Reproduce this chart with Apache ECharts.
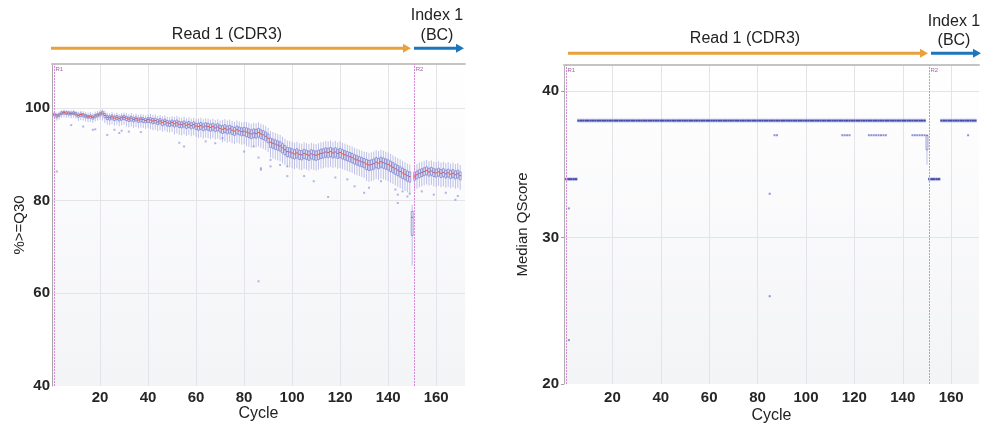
<!DOCTYPE html>
<html><head><meta charset="utf-8">
<script src="https://cdn.jsdelivr.net/npm/echarts@6/dist/echarts.min.js"></script>
<style>html,body{margin:0;padding:0;background:#fff}#c{width:982px;height:425px}</style>
</head><body><div id="c"></div>
<script>
// ---------- data ----------
const cycleCount = 170;
const cycles = Array.from({length: cycleCount}, (_, i) => i + 1);
const xTickLabels = [20, 40, 60, 80, 100, 120, 140, 160];
const leftYTicks = [40, 60, 80, 100];
const rightYTicks = [20, 30, 40];
const markerCycles = [1, 151];
const markerNames = ['R1', 'R2'];

// Left panel: %>=Q30 box plots per cycle
const leftMedian = [
 98.6,98.3,98.5,98.9,99.0,98.9,98.9,98.8,98.9,98.7,
 98.4,98.6,98.5,98.3,98.1,98.2,98.0,98.3,98.5,98.7,
 98.9,98.4,98.0,97.9,98.1,97.8,98.0,97.7,97.9,98.0,
 97.8,97.6,97.8,97.5,97.7,97.4,97.6,97.5,97.3,97.5,
 97.4,97.2,97.3,97.0,97.2,96.9,97.1,96.8,96.7,96.9,
 96.6,96.8,96.5,96.4,96.6,96.3,96.5,96.2,96.4,96.1,
 96.0,96.2,95.9,96.1,96.0,95.8,96.0,95.7,95.9,95.6,
 95.4,95.6,95.3,95.5,95.2,95.0,95.3,95.1,94.9,95.0,
 94.8,94.6,94.4,94.6,94.5,94.7,94.4,94.2,93.9,93.5,
 92.6,92.4,92.2,92.0,91.8,91.4,91.0,90.6,90.5,90.3,
 90.1,90.3,90.0,89.9,90.2,90.0,89.8,90.1,89.9,89.8,
 90.0,90.2,90.3,90.5,90.4,90.6,90.3,90.5,90.2,90.4,
 90.1,89.9,89.7,89.5,89.3,89.0,88.8,88.6,88.4,88.2,
 87.9,87.7,87.8,88.0,88.3,88.1,88.4,88.2,88.0,87.8,
 87.5,87.2,86.9,86.6,86.3,86.0,85.7,85.4,85.2,76.4,
 85.3,85.6,85.9,86.1,86.3,86.5,86.2,86.4,86.1,86.0,
 86.2,85.9,86.1,85.8,86.0,85.7,85.9,85.6,85.8,85.4];
const leftQ1 = [
 98.3,97.9,98.2,98.6,98.7,98.6,98.5,98.5,98.6,98.3,
 98.0,98.2,98.1,97.9,97.8,97.8,97.6,97.9,98.1,98.3,
 98.5,97.9,97.5,97.4,97.6,97.3,97.5,97.2,97.4,97.5,
 97.3,97.1,97.2,97.0,97.2,96.9,97.0,96.9,96.8,96.9,
 96.8,96.6,96.7,96.4,96.6,96.2,96.4,96.1,96.0,96.2,
 95.9,96.1,95.8,95.7,95.9,95.6,95.8,95.5,95.7,95.4,
 95.2,95.4,95.1,95.3,95.2,95.0,95.2,94.9,95.1,94.8,
 94.5,94.7,94.4,94.6,94.3,94.1,94.4,94.2,94.0,94.1,
 93.8,93.6,93.4,93.6,93.5,93.7,93.4,93.2,92.9,92.5,
 91.5,91.3,91.1,90.9,90.7,90.3,89.9,89.5,89.4,89.2,
 89.0,89.2,88.9,88.8,89.1,88.9,88.7,89.0,88.8,88.7,
 88.9,89.1,89.2,89.4,89.3,89.5,89.2,89.4,89.1,89.3,
 89.0,88.8,88.6,88.4,88.2,87.9,87.7,87.5,87.3,87.1,
 86.7,86.5,86.6,86.8,87.1,86.9,87.2,87.0,86.8,86.6,
 86.3,86.0,85.7,85.4,85.1,84.8,84.5,84.2,84.0,72.5,
 84.4,84.7,85.0,85.2,85.4,85.6,85.3,85.5,85.2,85.1,
 85.3,85.0,85.2,84.9,85.1,84.8,85.0,84.7,84.9,84.5];
const leftQ3 = [
 98.9,98.6,98.8,99.2,99.3,99.2,99.2,99.1,99.2,99.0,
 98.7,98.9,98.8,98.6,98.4,98.5,98.3,98.6,98.8,99.0,
 99.3,98.8,98.4,98.3,98.5,98.2,98.4,98.1,98.3,98.4,
 98.2,98.0,98.2,97.9,98.1,97.8,98.0,97.9,97.7,97.9,
 97.9,97.7,97.8,97.5,97.7,97.4,97.6,97.3,97.2,97.4,
 97.2,97.4,97.1,97.0,97.2,96.9,97.1,96.8,97.0,96.7,
 96.7,96.9,96.6,96.8,96.7,96.5,96.7,96.4,96.6,96.3,
 96.2,96.4,96.1,96.3,96.0,95.8,96.1,95.9,95.7,95.8,
 95.7,95.5,95.3,95.5,95.4,95.6,95.3,95.1,94.8,94.4,
 93.5,93.3,93.1,92.9,92.7,92.3,91.9,91.5,91.4,91.2,
 91.0,91.2,90.9,90.8,91.1,90.9,90.7,91.0,90.8,90.7,
 90.9,91.1,91.2,91.4,91.3,91.5,91.2,91.4,91.1,91.3,
 91.0,90.8,90.6,90.4,90.2,89.9,89.7,89.5,89.3,89.1,
 88.9,88.7,88.8,89.0,89.3,89.1,89.4,89.2,89.0,88.8,
 88.5,88.2,87.9,87.6,87.3,87.0,86.7,86.4,86.2,77.7,
 86.1,86.4,86.7,86.9,87.1,87.3,87.0,87.2,86.9,86.8,
 87.0,86.7,86.9,86.6,86.8,86.5,86.7,86.4,86.6,86.2];
const leftLow = [
 97.6,97.3,97.5,97.9,98.0,97.9,97.9,97.8,97.9,97.7,
 97.2,97.4,97.3,97.1,96.9,97.0,96.8,97.1,97.3,97.5,
 97.3,96.8,96.4,96.3,96.5,96.2,96.4,96.1,96.3,96.4,
 96.0,95.8,96.0,95.7,95.9,95.6,95.8,95.7,95.5,95.7,
 95.4,95.2,95.3,95.0,95.2,94.9,95.1,94.8,94.7,94.9,
 94.3,94.5,94.2,94.1,94.3,94.0,94.2,93.9,94.1,93.8,
 93.5,93.7,93.4,93.6,93.5,93.3,93.5,93.2,93.4,93.1,
 92.6,92.8,92.5,92.7,92.4,92.2,92.5,92.3,92.1,92.2,
 91.8,91.6,91.4,91.6,91.5,91.7,91.4,91.2,90.9,90.5,
 89.3,89.1,88.9,88.7,88.5,88.1,87.7,87.3,87.2,87.0,
 86.8,87.0,86.7,86.6,86.9,86.7,86.5,86.8,86.6,86.5,
 86.7,86.9,87.0,87.2,87.1,87.3,87.0,87.2,86.9,87.1,
 86.8,86.6,86.4,86.2,86.0,85.7,85.5,85.3,85.1,84.9,
 84.3,84.1,84.2,84.4,84.7,84.5,84.8,84.6,84.4,84.2,
 83.9,83.6,83.3,83.0,82.7,82.4,82.1,81.8,81.6,66.0,
 82.3,82.6,82.9,83.1,83.3,83.5,83.2,83.4,83.1,83.0,
 83.2,82.9,83.1,82.8,83.0,82.7,82.9,82.6,82.8,82.4];
const leftHigh = [
 99.3,99.0,99.2,99.5,99.6,99.6,99.5,99.5,99.6,99.4,
 99.2,99.4,99.3,99.1,99.0,99.1,98.9,99.2,99.4,99.5,
 99.7,99.4,99.0,98.9,99.1,98.8,99.0,98.7,98.9,99.0,
 98.9,98.7,98.9,98.6,98.8,98.5,98.7,98.6,98.4,98.6,
 98.7,98.5,98.6,98.3,98.5,98.2,98.4,98.1,98.0,98.2,
 98.1,98.3,98.0,97.9,98.1,97.8,98.0,97.7,97.9,97.6,
 97.7,97.9,97.6,97.8,97.7,97.5,97.7,97.4,97.6,97.3,
 97.4,97.6,97.3,97.5,97.2,97.0,97.3,97.1,96.9,97.0,
 97.0,96.8,96.6,96.8,96.7,96.9,96.6,96.4,96.1,95.7,
 95.0,94.8,94.6,94.4,94.2,93.8,93.4,93.0,92.9,92.7,
 92.5,92.7,92.4,92.3,92.6,92.4,92.2,92.5,92.3,92.2,
 92.4,92.6,92.7,92.9,92.8,93.0,92.7,92.9,92.6,92.8,
 92.5,92.3,92.1,91.9,91.7,91.4,91.2,91.0,90.8,90.6,
 90.5,90.3,90.4,90.6,90.9,90.7,91.0,90.8,90.6,90.4,
 90.1,89.8,89.5,89.2,88.9,88.6,88.3,88.0,87.8,79.1,
 87.6,87.9,88.2,88.4,88.6,88.8,88.5,88.7,88.4,88.3,
 88.5,88.2,88.4,88.1,88.3,88.0,88.2,87.9,88.1,87.7];
const leftOutliers = [[2,86.3],[8,96.3],[13,96.0],[17,95.3],[18,95.4],[23,94.2],[26,95.3],[28,94.6],[29,95.1],[32,94.9],[37,94.8],
 [53,92.5],[55,91.7],[64,92.8],[68,92.4],[71,93.5],[80,90.6],[82,94.0],[84,91.7],[86,89.3],[86,62.6],[87,87.0],[87,86.7],
 [91,88.8],[91,87.4],[95,87.7],[98,85.3],[98,87.4],[105,85.3],[109,84.2],[115,80.8],[118,85.0],[123,84.6],[126,83.1],
 [130,81.7],[132,82.8],[137,84.2],[143,82.4],[144,81.3],[144,79.5],[146,82.0],[148,80.9],[149,81.5],[154,82.0],
 [159,81.3],[164,81.7],[168,80.2],[169,81.0]];

// Right panel: Median QScore per cycle
const rightMedian = [
 34,34,34,34,34,38,38,38,38,38,
 38,38,38,38,38,38,38,38,38,38,
 38,38,38,38,38,38,38,38,38,38,
 38,38,38,38,38,38,38,38,38,38,
 38,38,38,38,38,38,38,38,38,38,
 38,38,38,38,38,38,38,38,38,38,
 38,38,38,38,38,38,38,38,38,38,
 38,38,38,38,38,38,38,38,38,38,
 38,38,38,38,38,38,38,38,38,38,
 38,38,38,38,38,38,38,38,38,38,
 38,38,38,38,38,38,38,38,38,38,
 38,38,38,38,38,38,38,38,38,38,
 38,38,38,38,38,38,38,38,38,38,
 38,38,38,38,38,38,38,38,38,38,
 38,38,38,38,38,38,38,38,38,37,
 34,34,34,34,34,38,38,38,38,38,
 38,38,38,38,38,38,38,38,38,38];
// [cycle, low, q1, median, q3, high] for the one non-flat box
const rightBoxCycle150 = [150, 35, 36, 37, 37, 37];
const rightOutliers = [[2,32],[2,23],[85,33],[85,26],[87,37],[88,37],[115,37],[116,37],[117,37],[118,37],
 [126,37],[127,37],[128,37],[129,37],[130,37],[131,37],[132,37],[133,37],
 [144,37],[145,37],[146,37],[147,37],[148,37],[149,37],[167,37]];

// ---------- chart ----------
const FONT = "'Liberation Sans', Arial, sans-serif";
const leftRows = cycles.map((c, i) => [c, leftLow[i], leftQ1[i], leftMedian[i], leftQ3[i], leftHigh[i]]);
const rightRows = cycles.map((c, i) => c === rightBoxCycle150[0] ? rightBoxCycle150.slice()
  : [c, rightMedian[i], rightMedian[i], rightMedian[i], rightMedian[i], rightMedian[i]]);

function makeRender(widthFrac) {
  return function (params, api) {
    const x = api.value(0);
    const pLo = api.coord([x, api.value(1)]);
    const pQ1 = api.coord([x, api.value(2)]);
    const pMed = api.coord([x, api.value(3)]);
    const pQ3 = api.coord([x, api.value(4)]);
    const pHi = api.coord([x, api.value(5)]);
    const full = api.size([1, 0])[0];
    const w = full * widthFrac;
    const children = [];
    const flat = Math.abs(pQ1[1] - pQ3[1]) < 0.5 && Math.abs(pLo[1] - pHi[1]) < 0.5;
    if (flat) {
      children.push({type: 'rect', shape: {x: pMed[0] - full / 2, y: pMed[1] - 2, width: full, height: 4},
        style: {fill: 'rgba(170,174,230,0.55)'}});
      children.push({type: 'rect', shape: {x: pMed[0] - full / 2, y: pMed[1] - 1, width: full, height: 2},
        style: {fill: '#4349ad'}});
      return {type: 'group', children};
    }
    children.push({type: 'line', shape: {x1: pLo[0], y1: pLo[1], x2: pHi[0], y2: pHi[1]},
      style: {stroke: 'rgba(140,144,215,0.55)', lineWidth: 1}});
    children.push({type: 'rect', shape: {x: pQ3[0] - w / 2, y: pQ3[1], width: w, height: Math.max(pQ1[1] - pQ3[1], 1)},
      style: {fill: 'rgba(240,241,252,0.85)', stroke: 'rgba(85,90,190,0.75)', lineWidth: 0.7}});
    children.push({type: 'line', shape: {x1: pMed[0] - w / 2, y1: pMed[1], x2: pMed[0] + w / 2, y2: pMed[1]},
      style: {stroke: '#e4514c', lineWidth: 1}});
    return {type: 'group', children};
  };
}

const bg = {type: 'linear', x: 0, y: 0, x2: 0, y2: 1, colorStops: [
  {offset: 0, color: '#ffffff'}, {offset: 0.18, color: '#fdfdfe'}, {offset: 1, color: '#f3f4f6'}]};

const splitStyle = {color: '#e4e4e8', width: 1};
function xAxisBottom(gridIndex, max, margin, nameGap) {
  return {
    gridIndex, type: 'value', min: 0, max, interval: 20,
    axisLine: {show: false}, axisTick: {show: false},
    axisLabel: {showMinLabel: false, showMaxLabel: false, fontWeight: 'bold', fontSize: 15, color: '#262626',
      margin, fontFamily: FONT,
      formatter: v => xTickLabels.indexOf(v) >= 0 ? String(v) : ''},
    splitLine: {show: true, showMinLine: false, showMaxLine: false, lineStyle: splitStyle},
    name: 'Cycle', nameLocation: 'middle', nameGap, nameMoveOverlap: false,
    nameTextStyle: {fontSize: 16, color: '#222', fontFamily: FONT}
  };
}
function xAxisTop(gridIndex, max) {
  return {gridIndex, type: 'value', position: 'top', min: 0, max,
    axisLine: {show: true, lineStyle: {color: '#c4c4c4', width: 2}},
    axisTick: {show: false}, axisLabel: {show: false}, splitLine: {show: false}};
}

function markers(ymax) {
  return {
    markLine: {symbol: 'none', silent: true, animation: false,
      lineStyle: {color: '#d88ad8', type: [2, 1], width: 1},
      label: {show: false},
      data: markerCycles.map(c => ({xAxis: c}))},
    markPoint: {silent: true, animation: false, symbol: 'rect', symbolSize: 0.1,
      itemStyle: {color: 'rgba(0,0,0,0)'},
      label: {show: true, position: 'right', distance: 1, offset: [0, 5], fontSize: 6, color: '#a565ae', fontFamily: FONT,
        formatter: p => p.name},
      data: markerCycles.map((c, i) => ({name: markerNames[i], coord: [c, ymax]}))}
  };
}

const option = {
  animation: false,
  grid: [
    {left: 52, top: 64, width: 413, height: 322, show: true, backgroundColor: bg, borderWidth: 0,
      containLabel: false, outerBoundsMode: 'none'},
    {left: 564, top: 65, width: 415, height: 319, show: true, backgroundColor: bg, borderWidth: 0,
      containLabel: false, outerBoundsMode: 'none'}
  ],
  xAxis: [xAxisBottom(0, 172, 4, 20), xAxisBottom(1, 171.5, 6, 24), xAxisTop(0, 172), xAxisTop(1, 171.5)],
  yAxis: [
    {gridIndex: 0, type: 'value', min: 40, max: 109.5, interval: 20,
      axisLine: {show: true, lineStyle: {color: '#a6a6a6'}}, axisTick: {show: false},
      axisLabel: {showMaxLabel: false, fontWeight: 'bold', fontSize: 15, color: '#262626', margin: 2, fontFamily: FONT,
        formatter: v => leftYTicks.indexOf(v) >= 0 ? String(v) : ''},
      splitLine: {show: true, showMinLine: false, showMaxLine: false, lineStyle: splitStyle},
      name: '%>=Q30', nameLocation: 'middle', nameGap: 25, nameMoveOverlap: false,
      nameTextStyle: {fontSize: 15, color: '#222', fontFamily: FONT}},
    {gridIndex: 1, type: 'value', min: 20, max: 41.8, interval: 10,
      axisLine: {show: true, lineStyle: {color: '#b0b0b0'}},
      axisTick: {show: true, length: 3, lineStyle: {color: '#a0a0a0'}},
      axisLabel: {showMaxLabel: false, fontWeight: 'bold', fontSize: 15, color: '#262626', margin: 5, fontFamily: FONT,
        formatter: v => rightYTicks.indexOf(v) >= 0 ? String(v) : ''},
      splitLine: {show: true, showMinLine: false, showMaxLine: false, lineStyle: splitStyle},
      name: 'Median QScore', nameLocation: 'middle', nameGap: 34, nameMoveOverlap: false,
      nameTextStyle: {fontSize: 15, color: '#222', fontFamily: FONT}}
  ],
  series: [
    Object.assign({type: 'custom', xAxisIndex: 0, yAxisIndex: 0, clip: true, renderItem: makeRender(0.8),
      encode: {x: 0, y: [1, 2, 3, 4, 5]}, data: leftRows, z: 3}, markers(109.5)),
    {type: 'scatter', xAxisIndex: 0, yAxisIndex: 0, symbol: 'rect', symbolSize: 2, data: leftOutliers,
      itemStyle: {color: 'rgba(110,115,205,0.65)'}, z: 2},
    Object.assign({type: 'custom', xAxisIndex: 1, yAxisIndex: 1, clip: true, renderItem: makeRender(0.8),
      encode: {x: 0, y: [1, 2, 3, 4, 5]}, data: rightRows, z: 3}, markers(41.8)),
    {type: 'scatter', xAxisIndex: 1, yAxisIndex: 1, symbol: 'rect', symbolSize: 2, data: rightOutliers,
      itemStyle: {color: 'rgba(80,86,196,0.8)'}, z: 2}
  ],
  graphic: [
    // left panel read annotations
    {type: 'line', shape: {x1: 51, y1: 48.3, x2: 404, y2: 48.3}, style: {stroke: '#E9A23B', lineWidth: 3}},
    {type: 'polygon', shape: {points: [[403, 43.8], [411, 48.3], [403, 52.8]]}, style: {fill: '#E9A23B'}},
    {type: 'line', shape: {x1: 414, y1: 48.3, x2: 457, y2: 48.3}, style: {stroke: '#1C76BC', lineWidth: 3}},
    {type: 'polygon', shape: {points: [[456, 43.8], [464, 48.3], [456, 52.8]]}, style: {fill: '#1C76BC'}},
    {type: 'text', style: {text: 'Read 1 (CDR3)', x: 227, y: 34.5, align: 'center', verticalAlign: 'middle', fontSize: 16, fontFamily: FONT, fill: '#222'}},
    {type: 'text', style: {text: 'Index 1', x: 437, y: 16, align: 'center', verticalAlign: 'middle', fontSize: 16, fontFamily: FONT, fill: '#222'}},
    {type: 'text', style: {text: '(BC)', x: 437, y: 36, align: 'center', verticalAlign: 'middle', fontSize: 16, fontFamily: FONT, fill: '#222'}},
    // right panel read annotations
    {type: 'line', shape: {x1: 568, y1: 53.3, x2: 921, y2: 53.3}, style: {stroke: '#E9A23B', lineWidth: 3}},
    {type: 'polygon', shape: {points: [[920, 48.8], [928, 53.3], [920, 57.8]]}, style: {fill: '#E9A23B'}},
    {type: 'line', shape: {x1: 931, y1: 53.3, x2: 974, y2: 53.3}, style: {stroke: '#1C76BC', lineWidth: 3}},
    {type: 'polygon', shape: {points: [[973, 48.8], [981, 53.3], [973, 57.8]]}, style: {fill: '#1C76BC'}},
    {type: 'text', style: {text: 'Read 1 (CDR3)', x: 745, y: 38.5, align: 'center', verticalAlign: 'middle', fontSize: 16, fontFamily: FONT, fill: '#222'}},
    {type: 'text', style: {text: 'Index 1', x: 954, y: 21.5, align: 'center', verticalAlign: 'middle', fontSize: 16, fontFamily: FONT, fill: '#222'}},
    {type: 'text', style: {text: '(BC)', x: 954, y: 41, align: 'center', verticalAlign: 'middle', fontSize: 16, fontFamily: FONT, fill: '#222'}}
  ]
};

const chart = echarts.init(document.getElementById('c'), null, {renderer: 'canvas'});
chart.setOption(option);
</script>
</body></html>
